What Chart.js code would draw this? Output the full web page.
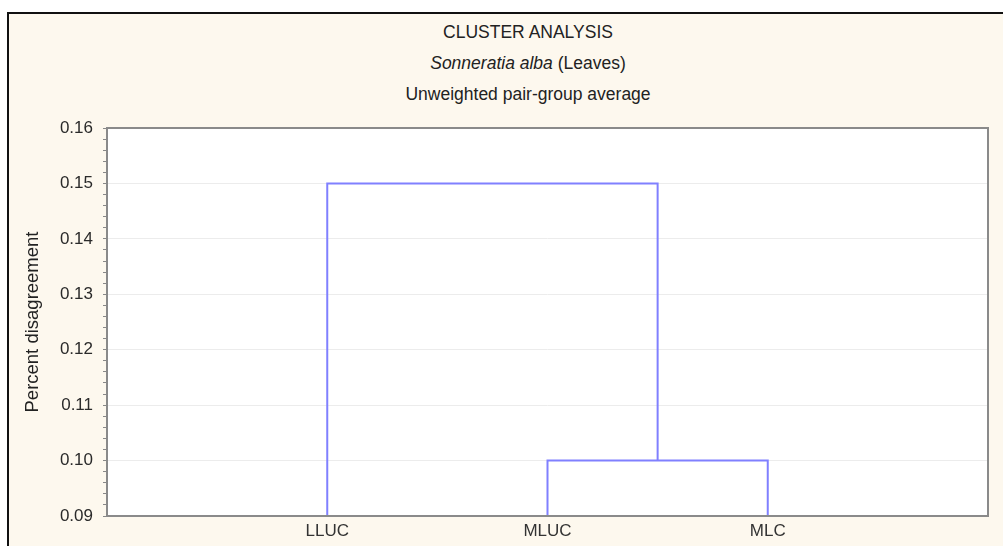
<!DOCTYPE html>
<html>
<head>
<meta charset="utf-8">
<script src="https://cdn.jsdelivr.net/npm/chart.js@4/dist/chart.umd.min.js"></script>
<style>
  html, body { margin: 0; padding: 0; background: #fff; }
  #frame {
    position: absolute; left: 7px; top: 12px; width: 1003px; height: 540px;
    background: #fdf8ee; border-left: 2px solid #111; border-top: 2px solid #111;
  }
  #wrap { position: absolute; left: 0; top: 0; width: 1003px; height: 546px; }
  .t {
    position: absolute; left: 328px; width: 400px; text-align: center;
    font-family: "Liberation Sans", Arial, sans-serif; font-size: 17.5px; color: #222;
  }
</style>
</head>
<body>
<div id="frame"></div>
<div class="t" style="top:22px">CLUSTER ANALYSIS</div>
<div class="t" style="top:53px"><i>Sonneratia alba</i> (Leaves)</div>
<div class="t" style="top:84px">Unweighted pair-group average</div>
<div id="wrap"><canvas id="c" width="1003" height="546"></canvas></div>
<script>
// Dendrogram data
const leaves = ['LLUC', 'MLUC', 'MLC'];
const leafPos = [1, 2, 3];
const baseLevel = 0.09;
// merge 1: MLUC + MLC, merge 2: LLUC + (MLUC,MLC)
const mergeHeights = [0.10, 0.15];
const yTicks = [0.09, 0.10, 0.11, 0.12, 0.13, 0.14, 0.15, 0.16];

const lineColor = '#8080ff';

// link paths built from the arrays
const mid1 = (leafPos[1] + leafPos[2]) / 2;
const link1 = [
  { x: leafPos[1], y: baseLevel },
  { x: leafPos[1], y: mergeHeights[0] },
  { x: leafPos[2], y: mergeHeights[0] },
  { x: leafPos[2], y: baseLevel }
];
const link2 = [
  { x: leafPos[0], y: baseLevel },
  { x: leafPos[0], y: mergeHeights[1] },
  { x: mid1, y: mergeHeights[1] },
  { x: mid1, y: mergeHeights[0] }
];

const plotBg = {
  id: 'plotBg',
  beforeDraw(chart) {
    const { ctx, chartArea: a } = chart;
    ctx.save();
    ctx.fillStyle = '#ffffff';
    ctx.fillRect(a.left, a.top, a.right - a.left, a.bottom - a.top);
    ctx.restore();
  },
  afterDraw(chart) {
    const { ctx, chartArea: a } = chart;
    ctx.save();
    ctx.strokeStyle = '#8a8a8a';
    ctx.lineWidth = 2;
    ctx.strokeRect(a.left, a.top, a.right - a.left, a.bottom - a.top);
    ctx.restore();
  }
};

new Chart(document.getElementById('c'), {
  type: 'scatter',
  data: {
    datasets: [link1, link2].map(pts => ({
      data: pts,
      showLine: true,
      borderColor: lineColor,
      borderWidth: 2,
      pointRadius: 0,
      tension: 0
    }))
  },
  options: {
    responsive: false,
    animation: false,
    layout: { padding: { top: 128, right: 15, left: 0, bottom: 0 } },
    plugins: { legend: { display: false }, tooltip: { enabled: false } },
    scales: {
      x: {
        type: 'linear', min: 0, max: leaves.length + 1,
        afterBuildTicks: s => { s.ticks = leafPos.map(v => ({ value: v })); },
        afterFit: s => { s.height = 30; },
        grid: { display: false, drawTicks: false },
        border: { display: false },
        ticks: {
          padding: 5,
          color: '#333',
          font: { family: 'Liberation Sans', size: 17 },
          callback: v => leaves[leafPos.indexOf(v)] || ''
        }
      },
      y: {
        min: yTicks[0], max: yTicks[yTicks.length - 1],
        afterBuildTicks: s => {
          const t = [];
          for (let i = 0; i < yTicks.length; i++) {
            t.push({ value: yTicks[i], major: true });
            if (i < yTicks.length - 1) {
              for (let k = 1; k < 5; k++) t.push({ value: yTicks[i] + (yTicks[i + 1] - yTicks[i]) * k / 5 });
            }
          }
          s.ticks = t;
        },
        afterFit: s => { s.width = 107; },
        grid: {
          color: c => (c.tick && c.tick.major) ? '#ececec' : 'rgba(0,0,0,0)',
          tickColor: '#888',
          tickLength: 4
        },
        border: { display: false },
        title: {
          display: true, text: 'Percent disagreement', color: '#222',
          font: { family: 'Liberation Sans', size: 18.5 }, padding: { top: 22 }
        },
        ticks: {
          autoSkip: false,
          padding: 10,
          color: '#2a2a2a',
          font: { family: 'Liberation Sans', size: 17 },
          callback: function (v, i, ticks) { return ticks[i].major ? v.toFixed(2) : ''; }
        }
      }
    }
  },
  plugins: [plotBg]
});
</script>
</body>
</html>
